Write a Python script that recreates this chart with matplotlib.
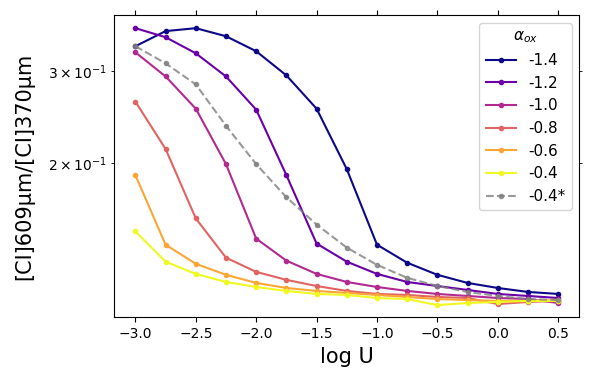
import numpy as np
import matplotlib.pyplot as plt

logU = [-3.0, -2.75, -2.5, -2.25, -2.0, -1.75, -1.5, -1.25, -1.0, -0.75, -0.5, -0.25, 0.0, 0.25, 0.5]

alpha_labels = ['-1.4', '-1.2', '-1.0', '-0.8', '-0.6', '-0.4']

r_m14 = [0.3356, 0.3589, 0.3636, 0.3508, 0.3282, 0.2948, 0.2543, 0.1944, 0.1390, 0.1283, 0.1216, 0.1173, 0.1147, 0.1127, 0.1117]
r_m12 = [0.3636, 0.3493, 0.3252, 0.2934, 0.2532, 0.1893, 0.1397, 0.1289, 0.1221, 0.1178, 0.1157, 0.1137, 0.1117, 0.1107, 0.1097]
r_m10 = [0.3266, 0.2934, 0.2543, 0.1988, 0.1428, 0.1295, 0.1221, 0.1178, 0.1152, 0.1132, 0.1117, 0.1107, 0.1097, 0.1092, 0.1073]
r_m08 = [0.2624, 0.2126, 0.1562, 0.1312, 0.1232, 0.1189, 0.1157, 0.1132, 0.1117, 0.1112, 0.1102, 0.1097, 0.1068, 0.1078, 0.1083]
r_m06 = [0.1893, 0.1390, 0.1277, 0.1216, 0.1173, 0.1147, 0.1132, 0.1122, 0.1112, 0.1102, 0.1092, 0.1087, 0.1083, 0.1083, 0.1087]
r_m04 = [0.1474, 0.1289, 0.1221, 0.1178, 0.1152, 0.1132, 0.1117, 0.1112, 0.1097, 0.1092, 0.1063, 0.1073, 0.1078, 0.1083, 0.1083]
r_m04s = [0.3356, 0.3110, 0.2832, 0.2357, 0.1988, 0.1716, 0.1520, 0.1372, 0.1271, 0.1200, 0.1157, 0.1127, 0.1107, 0.1092, 0.1087]

series = [r_m14, r_m12, r_m10, r_m08, r_m06, r_m04]
colors = plt.cm.plasma(np.linspace(0, 1, len(series)))

fig = plt.figure(figsize=(5.93, 3.77), dpi=100)
ax = fig.add_axes([0.1927, 0.1584, 0.7842, 0.8018])

for ys, lab, c in zip(series, alpha_labels, colors):
    ax.plot(logU, ys, '-o', color=c, ms=3, lw=1.5, label=lab)
ax.plot(logU, r_m04s, '--o', color='gray', alpha=0.8, ms=3, lw=1.5, label='-0.4*')

ax.set_yscale('log')
ax.set_ylim(0.1007, 0.3855)
ax.set_xlabel('log U', fontsize=15)
ax.set_ylabel('[CI]609μm/[CI]370μm', fontsize=15, labelpad=10)
ax.tick_params(which='both', right=True, top=True, labelsize=10)
ax.legend(title=r'$\alpha_{ox}$', fontsize=11, title_fontsize=11, loc='upper right')

fig.savefig('out.png', dpi=100)
